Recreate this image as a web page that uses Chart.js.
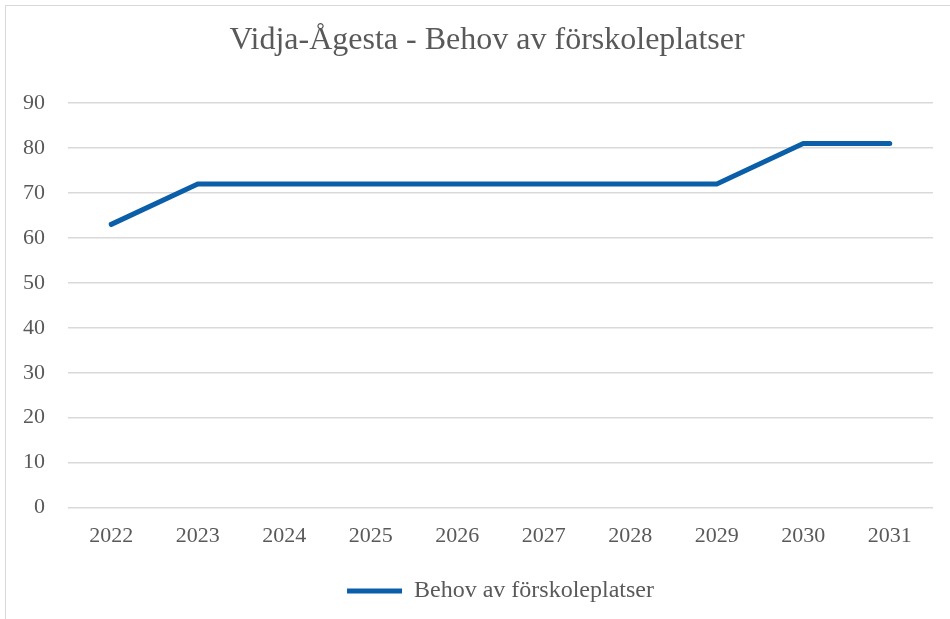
<!DOCTYPE html>
<html>
<head>
<meta charset="utf-8">
<script src="https://cdn.jsdelivr.net/npm/chart.js@4.4.1/dist/chart.umd.min.js"></script>
<style>
  html, body { margin: 0; padding: 0; background: #fff; }
  #wrap { position: relative; width: 950px; height: 619px; overflow: hidden; }
  #frame { position: absolute; left: 5px; top: 5px; width: 960px; height: 640px; border: 1px solid #d9d9d9; box-sizing: border-box; }
  #chart { position: absolute; left: 0; top: 0; }
</style>
</head>
<body>
<div id="wrap">
  <div id="frame"></div>
  <canvas id="chart" width="950" height="619"></canvas>
</div>
<script>
const years = ['2022', '2023', '2024', '2025', '2026', '2027', '2028', '2029', '2030', '2031'];
const behov = [63, 72, 72, 72, 72, 72, 72, 72, 81, 81];
const yTicks = [0, 10, 20, 30, 40, 50, 60, 70, 80, 90];
const titleText = 'Vidja-Ågesta - Behov av förskoleplatser';

const TEXT = '#595959';
const GRID = '#d9d9d9';
const LINE = '#0b5fa8';
const SERIF = '"Liberation Serif", "Times New Roman", serif';

// the original title sits a little right of the canvas centre, so draw it ourselves
const offsetTitle = {
  id: 'offsetTitle',
  afterDraw(chart) {
    const c = chart.ctx;
    c.save();
    c.fillStyle = TEXT;
    c.font = `32px ${SERIF}`;
    c.textAlign = 'center';
    c.textBaseline = 'middle';
    c.fillText(titleText, 487, 41);
    c.restore();
  },
};

const ctx = document.getElementById('chart').getContext('2d');
new Chart(ctx, {
  type: 'line',
  data: {
    labels: years,
    datasets: [{
      label: 'Behov av förskoleplatser',
      data: behov,
      borderColor: LINE,
      backgroundColor: LINE,
      borderWidth: 5,
      borderCapStyle: 'round',
      borderJoinStyle: 'round',
      pointRadius: 0,
      tension: 0,
    }],
  },
  plugins: [offsetTitle],
  options: {
    responsive: false,
    animation: false,
    layout: { padding: { left: 10, right: 17, top: 103, bottom: 6 } },
    plugins: {
      title: { display: false },
      legend: {
        position: 'bottom',
        fullSize: false,
        labels: {
          color: TEXT,
          font: { family: SERIF, size: 24 },
          usePointStyle: true,
          pointStyle: 'line',
          pointStyleWidth: 55,
          padding: 23,
        },
      },
      tooltip: { enabled: false },
    },
    scales: {
      x: {
        offset: true,
        grid: { display: false },
        border: { display: false },
        ticks: { color: TEXT, font: { family: SERIF, size: 22 }, padding: 7, maxRotation: 0 },
      },
      y: {
        min: 0,
        max: 90,
        afterBuildTicks: (axis) => { axis.ticks = yTicks.map(v => ({ value: v })); },
        afterFit: (axis) => { axis.width = 58; },
        grid: { color: GRID, lineWidth: 1.5, drawTicks: false },
        border: { display: false },
        ticks: { color: TEXT, font: { family: SERIF, size: 22 }, padding: 23 },
      },
    },
  },
});
</script>
</body>
</html>
